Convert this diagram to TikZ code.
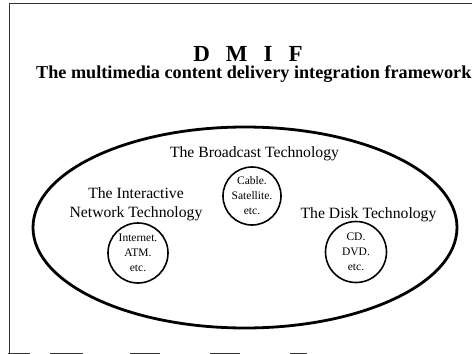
\documentclass[tikz,border=0pt]{standalone}
\usepackage{fontspec}
\setmainfont{Liberation Serif}
\usetikzlibrary{shapes.geometric}
\begin{document}
\begin{tikzpicture}[x=1pt,y=-1pt,
  frame/.style={line width=0.8pt,black!80},
  outer/.style={draw,line width=2.8pt},
  tech/.style={draw,circle,line width=1.6pt,minimum size=#1,inner sep=0pt,
               align=center,font=\fontsize{11.5}{15}\selectfont},
  label/.style={inner sep=0pt,anchor=base,font=\fontsize{15.7}{19}\selectfont}]
\useasboundingbox (0,0) rectangle (472,354);
% page frame
\draw[frame] (472,3) -- (9.5,3) -- (9.5,353);
\draw[frame,dash pattern=on 22pt off 20pt on 33pt off 47pt on 30pt off 50pt on 30pt off 50pt on 17pt off 200pt]
  (8,353) -- (472,353);
% heading
\node[inner sep=0pt,anchor=base,font=\bfseries\fontsize{23}{27}\selectfont] (title) at (248,61)
  {D\hspace{16pt}M\hspace{16pt}I\hspace{16pt}F};
\node[inner sep=0pt,anchor=base west,font=\bfseries\fontsize{18.2}{22}\selectfont] (sub) at (36,78)
  {The multimedia content delivery integration framework};
% framework boundary
\node[outer,ellipse,minimum width=424pt,minimum height=201pt,inner sep=0pt] (dmif) at (245,227.5) {};
% technologies
\node[label] (bc) at (254.5,157) {The Broadcast Technology};
\node[tech=58pt] (cable) at (252,196) {Cable.\\Satellite.\\etc.};
\node[label] (it1) at (136,198) {The Interactive};
\node[label] (it2) at (136,217) {Network Technology};
\node[tech=60pt] (net) at (138,253) {Internet.\\ATM.\\etc.};
\node[label] (disk) at (368.5,218) {The Disk Technology};
\node[tech=61pt] (cd) at (356,252) {CD.\\DVD.\\etc.};
\end{tikzpicture}
\end{document}
